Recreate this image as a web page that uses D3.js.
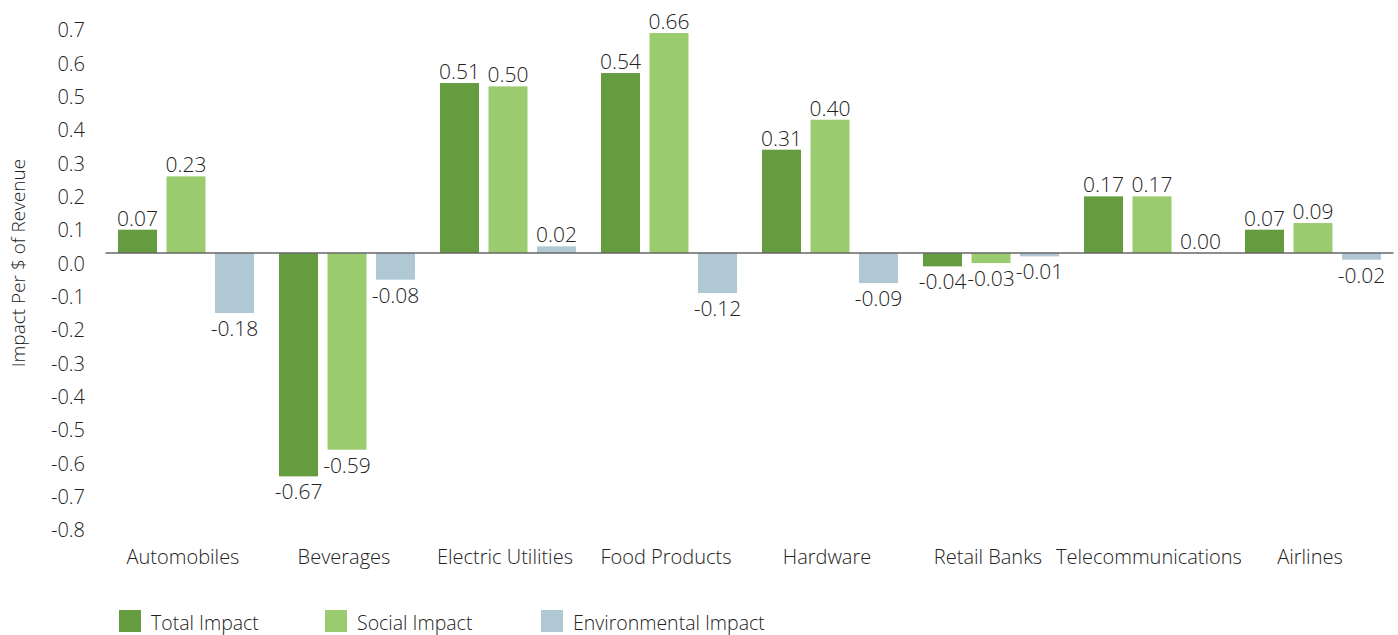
<!DOCTYPE html>
<html>
<head>
<meta charset="utf-8">
<script src="https://d3js.org/d3.v7.min.js"></script>
<style>
  body { margin: 0; background: #fff; }
  svg { font-family: "Open Sans", sans-serif; font-weight: 300; }
  text { fill: #222; }
</style>
</head>
<body>
<svg width="1398" height="635"></svg>
<script>
var categories = ['Automobiles', 'Beverages', 'Electric Utilities', 'Food Products', 'Hardware', 'Retail Banks', 'Telecommunications', 'Airlines'];
var seriesNames = ['Total Impact', 'Social Impact', 'Environmental Impact'];
var totalImpact = [0.07, -0.67, 0.51, 0.54, 0.31, -0.04, 0.17, 0.07];
var socialImpact = [0.23, -0.59, 0.50, 0.66, 0.40, -0.03, 0.17, 0.09];
var envImpact = [-0.18, -0.08, 0.02, -0.12, -0.09, -0.01, 0.00, -0.02];
var yTicks = [0.7, 0.6, 0.5, 0.4, 0.3, 0.2, 0.1, 0.0, -0.1, -0.2, -0.3, -0.4, -0.5, -0.6, -0.7, -0.8];
var colors = ['#659c40', '#9acc6f', '#afc8d4'];

var series = [totalImpact, socialImpact, envImpact];
var rows = categories.map(function (c, i) {
  return { cat: c, vals: series.map(function (s, k) { return { key: seriesNames[k], v: s[i] }; }) };
});

// plain hyphen instead of the unicode minus d3 uses
var fmt1 = function (v) { return d3.format('.1f')(v).replace('\u2212', '-'); };
var fmt2 = function (v) { return d3.format('.2f')(v).replace('\u2212', '-'); };

var svg = d3.select('svg');

var y = d3.scaleLinear().domain([-0.8, 0.7]).range([519.7, 19.7]);
var x0 = d3.scaleBand().domain(categories).range([105.5, 1393.5])
  .paddingInner(25 / 161).paddingOuter(12.5 / 161);
var x1 = d3.scaleBand().domain(seriesNames).range([0, x0.bandwidth()]).paddingInner(0.196);
var color = d3.scaleOrdinal().domain(seriesNames).range(colors);

// y tick labels (sit a bit below their value, like the original)
svg.append('g').selectAll('text').data(yTicks).join('text')
  .attr('x', 85).attr('y', function (d) { return y(d) + 10; })
  .attr('text-anchor', 'end').attr('dominant-baseline', 'central')
  .style('font-size', '20px')
  .text(function (d) { return d === 0 ? '0.0' : fmt1(d); });

svg.append('text')
  .attr('transform', 'translate(18,263) rotate(-90)')
  .attr('text-anchor', 'middle').attr('dominant-baseline', 'central')
  .style('font-size', '19px')
  .text('Impact Per $ of Revenue');

var groups = svg.append('g').selectAll('g').data(rows).join('g')
  .attr('transform', function (d) { return 'translate(' + x0(d.cat) + ',0)'; });

groups.selectAll('rect').data(function (d) { return d.vals; }).join('rect')
  .attr('x', function (d) { return x1(d.key); })
  .attr('width', x1.bandwidth())
  .attr('y', function (d) { return y(Math.max(0, d.v)); })
  .attr('height', function (d) { return Math.abs(y(d.v) - y(0)); })
  .attr('fill', function (d) { return color(d.key); });

groups.selectAll('text').data(function (d) { return d.vals; }).join('text')
  .attr('x', function (d) { return x1(d.key) + x1.bandwidth() / 2; })
  .attr('y', function (d) { return d.v >= 0 ? y(d.v) - 12 : y(d.v) + 15; })
  .attr('text-anchor', 'middle').attr('dominant-baseline', 'central')
  .style('font-size', '21px')
  .text(function (d) { return d.v === 0 ? '0.00' : fmt2(d.v); });

// zero line
svg.append('line')
  .attr('x1', x0.range()[0]).attr('x2', x0.range()[1])
  .attr('y1', y(0)).attr('y2', y(0))
  .attr('stroke', '#666').attr('stroke-width', 1.5);

// category labels
svg.append('g').selectAll('text').data(categories).join('text')
  .attr('x', function (d) { return x0(d) + x0.bandwidth() / 2 - 3; })
  .attr('y', 556)
  .attr('text-anchor', 'middle').attr('dominant-baseline', 'central')
  .style('font-size', '20px')
  .text(function (d) { return d; });

// legend
var legendX = [119, 325, 541];
var legend = svg.append('g').selectAll('g').data(seriesNames).join('g')
  .attr('transform', function (d, i) { return 'translate(' + legendX[i] + ',610)'; });
legend.append('rect').attr('width', 22).attr('height', 22)
  .attr('fill', function (d) { return color(d); });
legend.append('text').attr('x', 32).attr('y', 12)
  .attr('dominant-baseline', 'central')
  .style('font-size', '19.5px')
  .text(function (d) { return d; });
</script>
</body>
</html>
